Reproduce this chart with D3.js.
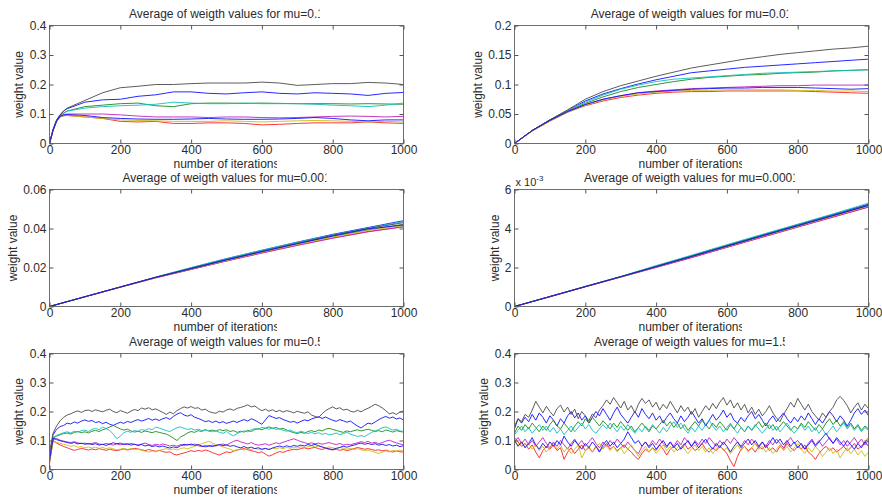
<!DOCTYPE html>
<html>
<head>
<meta charset="utf-8">
<script src="https://cdnjs.cloudflare.com/ajax/libs/d3/7.8.5/d3.min.js"></script>
<style>
  body { margin: 0; background: #fff; }
  svg text { font-family: "Liberation Sans", Arial, sans-serif; fill: #2b2b2b; }
</style>
</head>
<body>
<script>
const width = 882;
const height = 504;

// MATLAB default line order: b g r c m y k, then b again
const seriesColors = ['#1010ff', '#1a8a1a', '#ff2020', '#10c0c0', '#c020c0', '#c8c010', '#4a4a4a', '#1010ff'];

// all weight values below are in thousandths (x 1e-3)
const xTicks = [0, 200, 400, 600, 800, 1000];

const iters_mu01 = [0, 10, 20, 30, 40, 50, 100, 150, 200, 250, 300, 350, 400, 450, 500, 550, 600, 650, 700, 750, 800, 850, 900, 950, 1000];
const w_mu01 = [
  [0, 48, 80, 98, 110, 118, 140, 148, 150, 160, 165, 175, 175, 170, 168, 172, 175, 170, 168, 172, 170, 168, 163, 170, 173],
  [0, 46, 78, 95, 103, 110, 125, 130, 135, 137, 128, 125, 135, 137, 137, 136, 137, 136, 135, 135, 135, 134, 135, 134, 133],
  [0, 44, 74, 90, 94, 95, 90, 85, 75, 73, 75, 68, 68, 70, 70, 68, 63, 65, 68, 70, 70, 70, 73, 70, 68],
  [0, 47, 78, 95, 103, 110, 120, 125, 128, 130, 133, 140, 137, 135, 135, 137, 135, 135, 135, 133, 130, 128, 125, 130, 137],
  [0, 45, 75, 92, 98, 100, 100, 100, 97, 93, 90, 90, 90, 88, 90, 90, 88, 87, 88, 90, 92, 93, 92, 90, 92],
  [0, 44, 74, 90, 94, 95, 90, 85, 80, 78, 77, 75, 75, 75, 77, 75, 73, 75, 77, 78, 77, 75, 73, 75, 73],
  [0, 45, 78, 97, 110, 120, 146, 172, 189, 194, 200, 200, 203, 205, 205, 205, 208, 205, 197, 200, 203, 203, 207, 205, 200],
  [0, 45, 76, 92, 97, 98, 95, 88, 85, 83, 82, 82, 83, 85, 83, 82, 82, 83, 85, 88, 85, 80, 77, 80, 80]
];

const iters_mu001 = [0, 50, 100, 150, 200, 250, 300, 350, 400, 450, 500, 550, 600, 650, 700, 750, 800, 850, 900, 950, 1000];
const w_mu001 = [
  [0, 22, 40, 56, 72, 84, 93, 101, 108, 114, 120, 123, 126, 129, 131, 133, 135, 137, 139, 141, 143],
  [0, 22, 40, 55, 68, 79, 88, 95, 100, 105, 109, 112, 114, 116, 117, 119, 120, 121, 123, 124, 125],
  [0, 21, 38, 53, 64, 72, 78, 82, 85, 87, 88, 88, 89, 89, 89, 89, 89, 88, 87, 86, 85],
  [0, 22, 40, 56, 70, 82, 92, 99, 105, 109, 111, 113, 115, 117, 119, 120, 121, 122, 123, 124, 125],
  [0, 22, 39, 54, 66, 75, 81, 86, 89, 91, 93, 94, 95, 96, 97, 98, 98, 99, 99, 99, 99],
  [0, 21, 38, 53, 65, 74, 80, 84, 87, 89, 90, 90, 91, 91, 91, 91, 90, 90, 89, 89, 88],
  [0, 22, 40, 57, 75, 88, 98, 106, 114, 121, 128, 133, 138, 143, 147, 151, 154, 157, 160, 162, 165],
  [0, 22, 39, 54, 66, 75, 81, 86, 88, 90, 92, 93, 94, 94, 95, 95, 95, 94, 93, 92, 93]
];

const iters_mu0001 = [0, 100, 200, 300, 400, 500, 600, 700, 800, 900, 1000];
const w_mu0001 = [
  [0, 5.0, 10.0, 15.0, 19.8, 24.5, 28.8, 33.0, 37.0, 40.5, 44.0],
  [0, 5.0, 10.0, 14.9, 19.5, 24.0, 28.2, 32.2, 36.0, 39.3, 42.2],
  [0, 5.0, 9.9, 14.7, 19.0, 23.4, 27.5, 31.5, 35.2, 38.5, 40.8],
  [0, 5.0, 10.0, 15.1, 20.0, 24.6, 28.9, 33.0, 36.8, 40.2, 43.5],
  [0, 5.0, 9.9, 14.7, 19.0, 23.3, 27.4, 31.3, 35.0, 38.3, 41.0],
  [0, 5.0, 9.9, 14.8, 19.2, 23.6, 27.8, 31.8, 35.6, 39.0, 41.5],
  [0, 5.0, 10.0, 15.0, 19.5, 24.0, 28.3, 32.5, 36.5, 40.0, 43.0],
  [0, 5.0, 10.0, 14.9, 19.4, 23.9, 28.1, 32.2, 36.2, 39.8, 41.8]
];

const iters_mu00001 = [0, 100, 200, 300, 400, 500, 600, 700, 800, 900, 1000];
const w_mu00001 = [
  [0, 0.51, 1.02, 1.53, 2.07, 2.60, 3.14, 3.67, 4.20, 4.72, 5.25],
  [0, 0.51, 1.03, 1.53, 2.06, 2.58, 3.12, 3.64, 4.16, 4.68, 5.20],
  [0, 0.50, 1.01, 1.51, 2.01, 2.52, 3.04, 3.56, 4.08, 4.60, 5.10],
  [0, 0.51, 1.03, 1.54, 2.10, 2.63, 3.17, 3.70, 4.22, 4.75, 5.30],
  [0, 0.50, 1.01, 1.51, 2.00, 2.50, 3.03, 3.55, 4.07, 4.58, 5.10],
  [0, 0.51, 1.02, 1.52, 2.03, 2.55, 3.07, 3.59, 4.11, 4.63, 5.15],
  [0, 0.51, 1.02, 1.53, 2.05, 2.57, 3.10, 3.63, 4.15, 4.67, 5.20],
  [0, 0.51, 1.02, 1.52, 2.04, 2.56, 3.09, 3.62, 4.14, 4.66, 5.18]
];

// noisy runs sampled every 10 iterations
const iters_noisy = d3.range(0, 1001, 10);

const w_mu05 = [
  [30,120,138,148,152,160,157,164,160,167, 171,166,169,162,165,158,163,156,152,158,
   163,159,166,162,168,172,167,171,176,170, 174,169,175,179,173,183,191,196,188,184,
   189,180,176,171,165,168,162,167,161,165, 159,163,167,162,168,172,167,175,170,163,
   156,171,186,181,176,179,172,168,163,166, 160,166,171,168,174,178,182,176,181,175,
   170,166,172,168,163,167,158,150,143,152, 160,157,164,172,178,183,177,181,174,178, 170],
  [30,108,115,120,124,126,122,128,131,127, 130,126,132,135,131,137,141,147,152,146,
   140,136,139,133,129,132,128,133,130,127, 131,128,125,122,116,108,100,112,118,126,
   131,128,134,131,137,133,136,132,138,134, 137,131,134,128,132,129,135,131,138,141,
   137,143,147,142,145,139,142,136,131,127, 124,128,125,131,134,130,136,133,139,142,
   138,135,131,128,133,130,134,137,133,136, 139,135,131,134,130,136,133,129,134,131, 129],
  [20,100,91,85,79,75,70,66,69,73, 70,67,71,68,72,69,66,70,67,65,
   68,71,67,70,73,71,68,65,69,66, 63,66,62,59,61,53,50,54,57,61,
   65,62,66,63,67,64,58,54,50,56, 61,58,63,67,70,72,68,65,62,58,
   61,53,46,51,57,62,59,64,67,70, 68,72,75,71,74,76,72,69,73,70,
   67,70,66,69,65,68,72,76,73,70, 72,69,66,68,64,67,63,60,64,61, 60],
  [30,110,118,122,127,130,126,132,129,134, 136,131,138,142,137,146,141,135,122,106,
   115,127,132,128,135,131,138,135,141,137, 146,143,139,134,131,138,144,147,142,138,
   141,136,139,134,137,133,130,134,128,125, 131,122,116,124,129,133,130,137,141,138,
   146,142,139,143,138,141,135,132,136,130, 127,132,128,124,128,123,127,121,125,119,
   122,126,120,124,128,122,118,114,117,113, 121,128,133,138,144,147,141,136,139,133, 131],
  [40,104,107,101,98,95,93,96,92,89, 91,87,90,93,88,86,90,87,84,88,
   85,89,86,90,87,84,88,91,86,83, 87,84,88,85,81,84,80,86,83,87,
   84,88,82,79,83,80,84,81,85,88, 84,91,97,101,95,92,88,93,87,84,
   86,89,84,88,92,89,94,98,102,106, 101,96,93,89,92,88,91,87,90,93,
   89,86,90,84,87,85,89,92,96,93, 97,91,94,89,93,98,101,96,92,88, 85],
  [25,96,94,90,87,84,80,82,77,79, 75,78,74,77,73,76,72,75,71,68,
   70,73,69,72,68,71,66,63,60,64, 61,66,69,72,68,71,67,72,75,71,
   76,80,85,89,93,97,91,86,82,78, 74,70,65,68,71,67,72,69,73,70,
   68,72,69,74,71,75,72,76,73,77, 74,78,75,79,82,78,81,77,74,78,
   75,72,76,73,70,73,69,72,68,65, 67,63,59,55,60,64,61,66,63,67, 64],
  [60,125,150,168,180,188,192,198,202,197, 203,205,200,206,202,199,204,208,200,196,
   203,199,194,201,207,203,212,208,213,206, 209,203,197,190,198,192,203,210,216,212,
   217,211,213,205,208,200,196,194,201,198, 205,209,204,211,214,218,223,216,219,210,
   203,208,201,206,199,204,198,203,200,195, 201,197,194,199,188,183,179,192,203,210,
   216,209,213,205,208,201,198,204,199,206, 211,218,225,220,212,203,192,196,190,198, 202],
  [30,108,103,99,96,93,90,93,88,91, 87,90,86,89,84,87,83,88,92,89,
   91,86,89,84,87,83,86,81,84,79, 82,78,81,77,74,78,75,82,87,84,
   88,83,86,81,78,82,79,83,86,82, 85,80,83,78,75,79,74,77,72,75,
   70,73,69,74,78,81,77,82,78,83, 80,84,81,86,83,87,82,78,74,71,
   69,73,76,80,77,81,84,88,91,87, 90,86,89,84,87,83,86,81,84,79, 82]
];

const w_mu15 = [
  [140,175,160,180,165,190,170,195,180,160, 185,170,150,175,160,185,200,178,195,170,
   185,160,180,200,185,210,190,170,195,215, 190,175,160,180,200,180,210,190,175,195,
   170,185,160,180,195,175,160,185,165,180, 200,180,160,175,150,170,190,170,185,205,
   180,195,170,160,180,165,185,200,175,190, 170,150,170,185,165,180,195,175,160,180,
   165,185,170,195,175,155,175,160,180,200, 185,165,185,170,150,170,195,210,190,205, 185],
  [125,150,135,155,140,160,145,130,150,135, 155,170,150,140,160,145,130,150,165,150,
   175,160,180,165,150,168,155,140,160,145, 165,150,135,150,130,145,160,145,130,150,
   140,155,170,150,165,145,160,140,155,135, 150,165,150,170,155,140,160,145,165,150,
   135,155,140,160,145,130,150,135,150,165, 145,160,140,155,135,150,165,150,135,150,
   140,160,145,165,150,135,155,140,160,175, 155,170,150,165,145,160,140,155,135,150, 140],
  [110,95,80,90,70,85,60,40,65,80, 70,85,65,75,35,60,75,55,70,85,
   65,75,60,80,65,75,90,70,80,65, 75,85,70,60,45,35,55,70,60,75,
   65,85,70,50,70,80,65,75,90,70, 80,65,75,90,70,60,75,65,80,70,
   55,30,10,45,70,80,65,75,60,80, 70,85,65,75,60,80,70,90,75,65,
   80,70,85,60,50,35,55,70,80,65, 75,60,70,80,65,75,90,70,80,95, 110],
  [120,135,150,130,145,125,140,155,135,150, 130,145,125,140,120,135,150,130,145,160,
   140,155,135,125,140,155,140,160,145,130, 150,135,155,140,125,145,130,150,135,155,
   140,125,145,130,150,165,145,160,140,125, 145,130,150,135,155,170,150,135,150,130,
   145,160,140,125,145,130,150,135,155,140, 125,140,155,135,150,130,145,160,140,125,
   140,155,135,150,130,145,125,140,120,135, 150,130,145,160,140,155,135,150,130,145, 135],
  [95,110,90,105,85,100,80,95,110,90, 75,95,80,100,85,70,90,105,85,100,
   80,95,110,90,75,95,80,100,85,105, 90,75,95,80,65,55,80,95,80,100,
   85,105,90,75,95,80,100,85,110,95, 80,100,85,105,90,110,95,80,100,85,
   105,90,110,95,80,100,85,105,90,75, 95,80,100,85,105,90,75,95,110,90,
   100,85,70,90,105,85,100,80,95,110, 90,105,85,100,80,95,110,90,105,85, 100],
  [100,85,95,75,90,70,85,65,80,60, 75,90,70,85,60,75,55,70,85,40,
   65,80,60,75,90,70,85,65,80,60, 75,55,70,85,65,45,65,80,60,75,
   55,70,85,65,80,60,75,90,70,55, 70,85,65,80,60,75,55,70,85,65,
   75,55,70,85,65,80,60,75,90,70, 80,60,75,55,70,85,65,80,60,75,
   90,70,55,75,60,80,65,45,60,75, 55,70,40,60,75,55,70,50,65,45, 60],
  [150,175,165,190,180,205,235,215,195,218, 200,185,210,222,198,215,190,208,175,200,
   185,168,192,178,205,220,240,225,248,230, 212,235,205,220,195,225,245,228,240,215,
   232,205,225,210,235,215,195,220,200,215, 190,210,180,200,220,205,228,210,232,248,
   222,240,212,230,205,225,195,215,190,208, 185,200,220,195,178,165,190,210,232,215,
   245,225,205,225,200,185,170,195,180,200, 215,240,252,238,220,195,215,230,205,225, 210],
  [100,80,95,75,90,110,85,70,90,75, 95,80,100,85,115,95,80,100,85,70,
   90,75,95,80,60,85,100,80,95,75, 90,105,130,110,90,100,80,95,75,90,
   70,85,100,80,95,75,90,70,85,100, 80,95,75,90,105,85,70,90,75,95,
   80,60,80,95,75,90,105,85,100,80, 95,75,90,110,90,105,85,100,80,95,
   75,90,70,85,100,80,95,110,125,105, 90,110,95,80,100,85,70,90,75,95, 80]
];

const yTicks_04 = [0, 0.1, 0.2, 0.3, 0.4];
const yLabels_04 = ['0', '0.1', '0.2', '0.3', '0.4'];
const yTicks_02 = [0, 0.05, 0.1, 0.15, 0.2];
const yLabels_02 = ['0', '0.05', '0.1', '0.15', '0.2'];
const yTicks_006 = [0, 0.02, 0.04, 0.06];
const yLabels_006 = ['0', '0.02', '0.04', '0.06'];
const yTicks_0006 = [0, 0.002, 0.004, 0.006];
const yLabels_0006 = ['0', '2', '4', '6'];

const cols = [[49.5, 403.5], [514.5, 868.5]];
const rows = [[25.5, 143.5], [189.5, 306.5], [353.5, 469.5]];

const panels = [
  { title: 'Average of weigth values for mu=0.1', iters: iters_mu01, w: w_mu01, yMax: 0.4, ticks: yTicks_04, labels: yLabels_04, col: 0, row: 0 },
  { title: 'Average of weigth values for mu=0.01', iters: iters_mu001, w: w_mu001, yMax: 0.2, ticks: yTicks_02, labels: yLabels_02, col: 1, row: 0 },
  { title: 'Average of weigth values for mu=0.001', iters: iters_mu0001, w: w_mu0001, yMax: 0.06, ticks: yTicks_006, labels: yLabels_006, col: 0, row: 1 },
  { title: 'Average of weigth values for mu=0.0001', iters: iters_mu00001, w: w_mu00001, yMax: 0.006, ticks: yTicks_0006, labels: yLabels_0006, col: 1, row: 1, exponent: true },
  { title: 'Average of weigth values for mu=0.5', iters: iters_noisy, w: w_mu05, yMax: 0.4, ticks: yTicks_04, labels: yLabels_04, col: 0, row: 2 },
  { title: 'Average of weigth values for mu=1.5', iters: iters_noisy, w: w_mu15, yMax: 0.4, ticks: yTicks_04, labels: yLabels_04, col: 1, row: 2 }
];

const svg = d3.select('body')
  .append('svg')
  .attr('width', width)
  .attr('height', height);
const defs = svg.append('defs');

// cut off the last few pixels of a text, like the clipped labels of the original figure
function clipTail(sel, cut, id) {
  const b = sel.node().getBBox();
  defs.append('clipPath')
    .attr('id', id)
    .append('rect')
    .attr('x', b.x - 2)
    .attr('y', b.y - 2)
    .attr('width', b.width - cut + 2)
    .attr('height', b.height + 4);
  sel.attr('clip-path', 'url(#' + id + ')');
}

function styleAxis(g) {
  g.select('.domain').remove();
  g.selectAll('.tick line').attr('stroke', '#555');
  g.selectAll('.tick text')
    .attr('font-size', 12)
    .attr('font-family', '"Liberation Sans", Arial, sans-serif')
    .attr('fill', '#2b2b2b');
}

panels.forEach((p, k) => {
  const [x0, x1] = cols[p.col];
  const [y0, y1] = rows[p.row];

  const xScale = d3.scaleLinear().domain([0, 1000]).range([x0, x1]);
  const yScale = d3.scaleLinear().domain([0, p.yMax]).range([y1, y0]);

  const g = svg.append('g').attr('class', 'panel');

  defs.append('clipPath')
    .attr('id', 'plot-clip-' + k)
    .append('rect')
    .attr('x', x0)
    .attr('y', y0)
    .attr('width', x1 - x0)
    .attr('height', y1 - y0);

  const line = d3.line()
    .x((d, i) => xScale(p.iters[i]))
    .y(d => yScale(d / 1000));

  g.append('g')
    .attr('clip-path', 'url(#plot-clip-' + k + ')')
    .selectAll('path')
    .data(p.w)
    .enter()
    .append('path')
    .attr('d', line)
    .attr('fill', 'none')
    .attr('stroke', (d, i) => seriesColors[i])
    .attr('stroke-width', 0.9)
    .attr('stroke-linejoin', 'round');

  // box
  g.append('rect')
    .attr('x', x0)
    .attr('y', y0)
    .attr('width', x1 - x0)
    .attr('height', y1 - y0)
    .attr('fill', 'none')
    .attr('stroke', '#6e6e6e')
    .attr('stroke-width', 1);

  // ticks point inwards on all four sides
  g.append('g')
    .attr('transform', 'translate(0,' + y1 + ')')
    .call(d3.axisBottom(xScale).tickValues(xTicks).tickSize(-4).tickPadding(2).tickFormat(d3.format('d')))
    .call(styleAxis);
  g.append('g')
    .attr('transform', 'translate(0,' + y0 + ')')
    .call(d3.axisTop(xScale).tickValues(xTicks).tickSize(-4).tickFormat(''))
    .call(styleAxis);
  const yAxisG = g.append('g')
    .attr('transform', 'translate(' + x0 + ',0)')
    .call(d3.axisLeft(yScale).tickValues(p.ticks).tickSize(-4).tickPadding(3).tickFormat((d, i) => p.labels[i]))
    .call(styleAxis);
  g.append('g')
    .attr('transform', 'translate(' + x1 + ',0)')
    .call(d3.axisRight(yScale).tickValues(p.ticks).tickSize(-4).tickFormat(''))
    .call(styleAxis);

  let maxW = 0;
  yAxisG.selectAll('.tick text').each(function() {
    maxW = Math.max(maxW, this.getBBox().width);
  });

  const cx = (x0 + x1) / 2;

  const title = g.append('text')
    .attr('x', cx)
    .attr('y', y0 - 8)
    .attr('text-anchor', 'middle')
    .attr('font-size', 12)
    .text(p.title);
  clipTail(title, 4.5, 'title-clip-' + k);

  const xLabel = g.append('text')
    .attr('x', cx)
    .attr('y', y1 + 24)
    .attr('text-anchor', 'middle')
    .attr('font-size', 12)
    .text('number of iterations');
  clipTail(xLabel, 2.5, 'xlabel-clip-' + k);

  g.append('text')
    .attr('transform', 'translate(' + (x0 - 3 - maxW - 6) + ',' + ((y0 + y1) / 2) + ') rotate(-90)')
    .attr('text-anchor', 'middle')
    .attr('font-size', 12)
    .text('weight value');

  if (p.exponent) {
    const ex = g.append('text')
      .attr('x', x0 + 1)
      .attr('y', y0 - 4)
      .attr('font-size', 11);
    ex.append('tspan').text('x 10');
    ex.append('tspan')
      .attr('dy', -5)
      .attr('font-size', 8)
      .text('-3');
  }
});
</script>
</body>
</html>
